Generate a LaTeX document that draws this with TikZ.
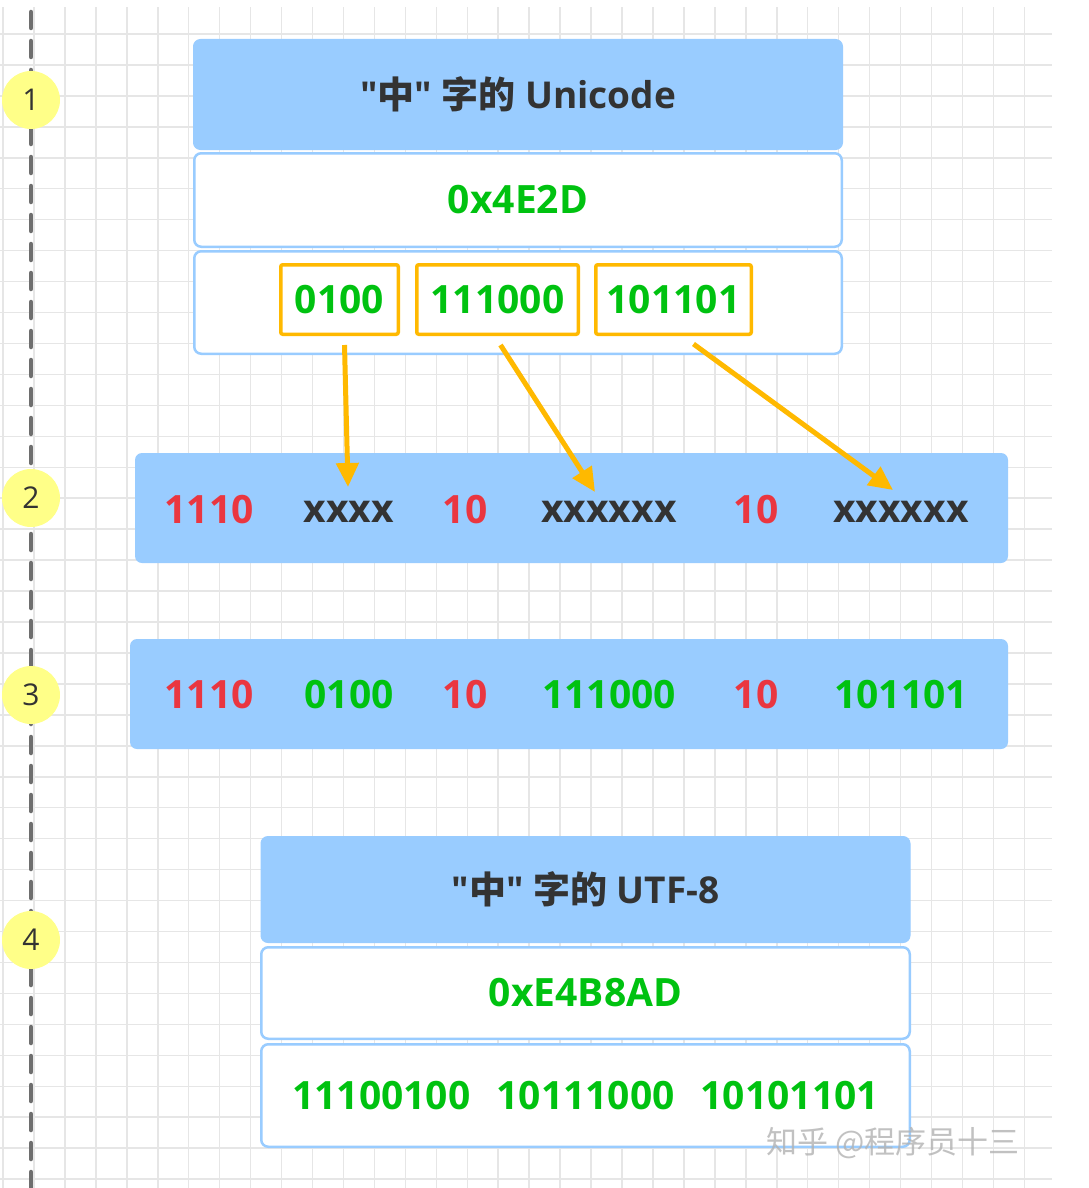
\documentclass[tikz,border=0pt]{standalone}
\usepackage{fontspec}
\setmainfont{Open Sans}[Ligatures=TeXOff]
\newfontfamily\cjk{Noto Sans CJK SC}
\definecolor{utfblue}{RGB}{153,204,255}
\definecolor{utfgreen}{RGB}{0,194,16}
\definecolor{utfred}{RGB}{234,54,64}
\definecolor{utforange}{RGB}{255,185,0}
\definecolor{utfyellow}{RGB}{255,255,136}
\definecolor{utfdark}{RGB}{51,51,51}
\definecolor{utfgrid}{RGB}{230,230,230}
\definecolor{utfrail}{RGB}{110,110,110}
\usetikzlibrary{arrows.meta}
\newcommand\headfont{\fontsize{37}{40}\selectfont\bfseries}
\newcommand\bitfont{\fontsize{39}{42}\selectfont\bfseries}
\tikzset{
  gridline/.style={draw=utfgrid, line width=1.5pt},
  rail/.style={draw=utfrail, line width=4.5pt, line cap=round, dash pattern=on 16pt off 13pt},
  marker/.style={circle, fill=utfyellow, minimum size=58pt, inner sep=0pt, text=utfdark, font=\fontsize{30}{32}\selectfont},
  titlebar/.style={fill=utfblue, draw=utfblue, line width=1pt, rounded corners=7pt, text=utfdark, font=\headfont},
  cellrow/.style={fill=white, draw=utfblue, line width=2.5pt, rounded corners=7pt, text=utfgreen, font=\bitfont},
  bitbox/.style={fill=white, draw=utforange, line width=3.5pt, rounded corners=2pt, text=utfgreen, font=\bitfont},
  band/.style={fill=utfblue, rounded corners=7pt},
  redbit/.style={text=utfred, font=\bitfont},
  darkbit/.style={text=utfdark, font=\bitfont},
  greenbit/.style={text=utfgreen, font=\bitfont},
  flow/.style={draw=utforange, line width=5pt, -{Triangle[length=24pt,width=22pt]}},
  stamp/.style={text=gray!60, opacity=0.8, font=\fontsize{31}{33}\selectfont\cjk}
}

\begin{document}
\begin{tikzpicture}[x=1pt,y=-1pt]
  \useasboundingbox [fill=white] (0,0) rectangle (1088,1188);
  \begin{scope}[shift={(3,3)}]
    \draw [gridline, step=30.95pt] (-3,4) grid (1049,1185);
  \end{scope}

  \draw [rail] (31,12) -- (31,1188);
  \node [marker] (m1) at (31,100) {1};
  \node [marker] (m2) at (31,498) {2};
  \node [marker] (m3) at (31,695) {3};
  \node [marker] (m4) at (31,940) {4};

  % step 1: the code point
  \node [titlebar, minimum width=649pt, minimum height=110pt] (uhead) at (518,94.5) {"{\cjk 中}" {\cjk 字的} Unicode};
  \node [cellrow, minimum width=647.5pt, minimum height=93.5pt] (uhex) at (518,200) {0x4E2D};
  \node [cellrow, minimum width=647.5pt, minimum height=102.5pt] (ubits) at (518,302.5) {};
  \node [bitbox, minimum width=117.5pt, minimum height=69.5pt] (b1) at (339.5,299.5) {0100};
  \node [bitbox, minimum width=161.5pt, minimum height=69.5pt] (b2) at (497.5,299.5) {111000};
  \node [bitbox, minimum width=155.5pt, minimum height=69.5pt] (b3) at (673.5,299.5) {101101};

  % step 2: the three-byte template
  \node [band, minimum width=873pt, minimum height=110pt] (tmpl) at (571.5,508) {};
  \node [redbit] (t1) at (209,510) {1110};
  \node [darkbit] (t2) at (349,512) {xxxx};
  \node [redbit] (t3) at (465,510) {10};
  \node [darkbit] (t4) at (609,512) {xxxxxx};
  \node [redbit] (t5) at (756,510) {10};
  \node [darkbit] (t6) at (901,512) {xxxxxx};

  \coordinate (a1) at (348,487);
  \coordinate (a2) at (595,492);
  \coordinate (a3) at (893,490);
  \draw [flow] ([xshift=5pt,yshift=-9pt]b1.south) -- (a1);
  \draw [flow] ([xshift=3pt,yshift=-9pt]b2.south) -- (a2);
  \draw [flow] ([xshift=20pt,yshift=-8pt]b3.south) -- (a3);

  % step 3: filled in
  \node [band, minimum width=878pt, minimum height=110pt] (fill) at (569,694) {};
  \node [redbit] (f1) at (209,695) {1110};
  \node [greenbit] (f2) at (349,695) {0100};
  \node [redbit] (f3) at (465,695) {10};
  \node [greenbit] (f4) at (609,695) {111000};
  \node [redbit] (f5) at (756,695) {10};
  \node [greenbit] (f6) at (901,695) {101101};

  % step 4: the encoded bytes
  \node [titlebar, minimum width=649pt, minimum height=106pt] (chead) at (585.5,889.5) {"{\cjk 中}" {\cjk 字的} UTF-8};
  \node [cellrow, minimum width=648.5pt, minimum height=91.5pt] (chex) at (585.5,993) {0xE4B8AD};
  \node [cellrow, minimum width=648.5pt, minimum height=102.5pt] (cbits) at (585.5,1095.5) {11100100\hspace{26pt}10111000\hspace{26pt}10101101};

  \node [stamp] (mark) at (893,1143) {知乎 @程序员十三};
\end{tikzpicture}
\end{document}
